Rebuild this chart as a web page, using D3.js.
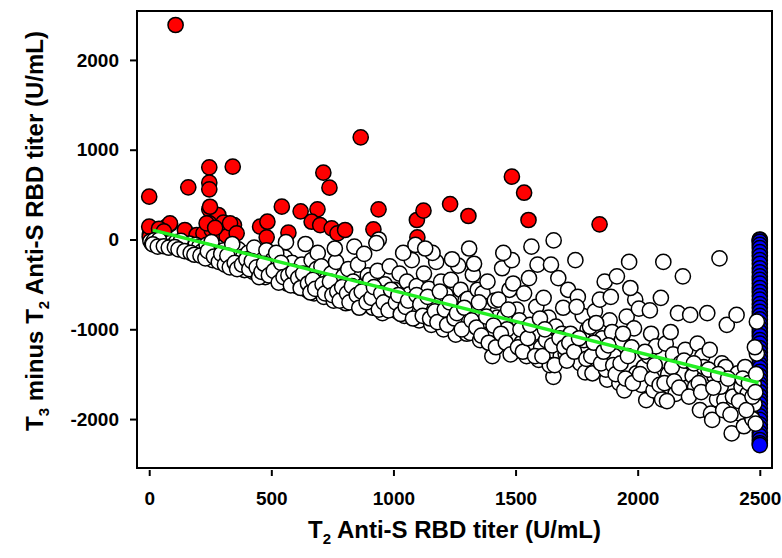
<!DOCTYPE html>
<html><head><meta charset="utf-8">
<script src="https://cdn.jsdelivr.net/npm/d3@7"></script>
<style>
body{margin:0;background:#fff}
svg{display:block}
text{font-family:"Liberation Sans",Arial,Helvetica,sans-serif;font-weight:bold;fill:#000}
</style>
</head><body>
<svg id="c" width="782" height="558"></svg>
<script>
const xTicks = [0, 500, 1000, 1500, 2000, 2500];
const yTicks = [-2000, -1000, 0, 1000, 2000];
const xTitleMain = "T", xTitleSub = "2", xTitleRest = " Anti-S RBD titer (U/mL)";
const yTitleParts = [["T",""],["3","sub"],[" minus T",""],["2","sub"],[" Anti-S RBD titer (U/mL)",""]];

const redPts = [
 [108,2389],[0,477],[160,581],[246,804],[342,811],[246,633],[246,559],[246,336],[283,273],[246,180],
 [304,187],[347,161],[351,68],[454,143],[484,198],[481,24],[543,366],[570,76],[620,314],[689,336],
 [665,198],[700,161],[713,744],[738,577],[747,124],[771,68],[802,106],[866,1138],[939,336],[918,113],
 [1096,217],[1123,321],[1098,24],[1232,395],[3,68],[10,106],[71,143],[85,172],[146,106],[194,50],
 [222,68],[256,106],[287,87],[317,31],[5,20],[2,30],[0,143],[85,180],[249,365],[235,180],[331,180],
 [358,69],[1307,262],[1485,700],[1535,521],[1553,217],[1844,169],[40,120],[60,90],[270,130]
];

const whitePts = [
 [5,-20],[12,-45],[20,-10],[30,-35],[45,-60],[55,-25],[70,-50],[85,-40],[95,-70],[40,-5],
 [110,-30],[125,-75],[140,-60],[150,-100],[165,-45],[180,-120],[195,-95],[160,-130],[130,-15],[190,-60],
 [205,-80],[215,-135],[225,-170],[235,-60],[245,-200],[250,-110],[260,-230],[270,-150],[280,-90],[290,-190],[255,-30],[298,-240],
 [305,-120],[315,-210],[325,-270],[335,-160],[345,-300],[355,-230],[365,-110],[375,-320],[385,-190],[395,-260],[340,-50],[390,-340],
 [405,-150],[415,-280],[425,-360],[435,-220],[445,-390],[455,-300],[465,-180],[475,-420],[485,-260],[495,-340],[430,-90],[480,-120],
 [505,-230],[515,-410],[525,-300],[535,-450],[545,-370],[555,-200],[565,-490],[575,-330],[585,-260],[595,-440],[560,-30],[520,-150],
 [605,-520],[615,-360],[625,-280],[635,-470],[645,-560],[655,-400],[665,-230],[675,-600],[685,-330],[695,-500],[640,-50],[690,-150],
 [705,-300],[715,-640],[725,-450],[735,-560],[745,-380],[755,-680],[765,-250],[775,-520],[785,-600],[795,-410],[760,-100],
 [805,-710],[815,-330],[825,-560],[835,-470],[845,-650],[855,-280],[865,-740],[875,-520],[885,-620],[895,-400],[840,-80],[880,-160],
 [905,-450],[915,-760],[925,-580],[935,-350],[945,-680],[955,-820],[965,-500],[975,-620],[985,-300],[995,-720],[940,0],[930,-40],
 [1005,-560],[1015,-800],[1025,-380],[1035,-680],[1045,-850],[1055,-470],[1065,-610],[1075,-230],[1085,-760],[1095,-520],[1040,-150],[1090,-60],
 [1105,-900],[1115,-640],[1125,-380],[1135,-780],[1145,-550],[1155,-950],[1165,-700],[1175,-250],[1185,-840],[1195,-470],[1160,-150],[1130,-100],
 [1205,-1000],[1215,-620],[1225,-860],[1235,-450],[1245,-760],[1255,-1060],[1265,-290],[1275,-560],[1285,-920],[1295,-680],[1240,-220],[1300,-1050],
 [1305,-660],[1315,-1040],[1325,-390],[1335,-820],[1345,-560],[1355,-1120],[1365,-600],[1375,-940],[1385,-470],[1395,-1050],[1330,-270],[1370,-740],[1310,-100],
 [1405,-1300],[1415,-680],[1425,-870],[1435,-1120],[1445,-320],[1455,-860],[1465,-1000],[1475,-560],[1485,-230],[1495,-1230],[1430,-670],[1450,-150],[1490,-490],
 [1505,-780],[1515,-900],[1525,-1150],[1535,-600],[1545,-1300],[1555,-430],[1565,-80],[1575,-1040],[1585,-750],[1595,-1340],[1520,-1000],[1590,-280],
 [1605,-1200],[1615,-650],[1625,-1120],[1635,-870],[1645,-280],[1655,-1530],[1665,-970],[1675,-430],[1685,-1300],[1695,-760],[1656,-10],[1640,-1400],[1690,-1050],
 [1705,-1270],[1715,-560],[1725,-1050],[1735,-1160],[1745,-230],[1755,-640],[1765,-1380],[1775,-850],[1785,-1480],[1795,-1000],[1750,-750],[1780,-1120],
 [1805,-970],[1815,-1490],[1825,-800],[1835,-1230],[1845,-670],[1855,-1100],[1865,-470],[1875,-1560],[1885,-900],[1895,-1030],[1830,-930],[1870,-1450],[1890,-640],
 [1905,-1300],[1915,-410],[1925,-1600],[1935,-1120],[1945,-1680],[1955,-860],[1965,-250],[1975,-1200],[1985,-990],[1995,-1490],[1940,-1050],[1990,-670],[1970,-540],
 [2005,-770],[2015,-1620],[2025,-1420],[2035,-1790],[2045,-1300],[2055,-1050],[2065,-1680],[2075,-1190],[2085,-1500],[2095,-650],[2050,-790],[2100,-1780],
 [2105,-250],[2115,-1160],[2125,-1500],[2135,-1030],[2145,-1280],[2155,-1720],[2165,-820],[2175,-1380],[2185,-410],[2195,-1230],[2120,-1800],[2180,-1500],
 [2205,-1650],[2215,-840],[2225,-1520],[2235,-1640],[2245,-1160],[2255,-1900],[2265,-1300],[2275,-1530],[2285,-820],[2295,-1230],[2300,-1940],[2270,-1420],
 [2305,-2010],[2315,-1530],[2325,-1780],[2335,-210],[2345,-1380],[2355,-1790],[2365,-950],[2375,-1640],[2385,-2160],[2395,-1830],[2360,-1420],[2390,-1750],[2340,-1640],
 [2405,-840],[2410,-1490],[2420,-1940],[2425,-1640],[2435,-2080],[2440,-1420],[2450,-1720],[2460,-1860],[2465,-1970],[2475,-1600],[2478,-1830],[2488,-1270],[2488,-915],[2480,-1200],[2470,-2000],
 [15,-55],[35,-80],[60,-75],[80,-90],
 [105,-85],[120,-110],[145,-130],[170,-150],[185,-170],
 [210,-180],[230,-210],[240,-130],[265,-190],[285,-250],[295,-160],
 [310,-280],[320,-180],[330,-310],[350,-260],[360,-330],[380,-280],[398,-220],
 [410,-330],[420,-240],[440,-310],[450,-420],[460,-360],[470,-270],[490,-400],
 [510,-350],[530,-480],[540,-260],[550,-420],[570,-400],[580,-510],[590,-360],
 [610,-430],[620,-540],[630,-380],[650,-490],[660,-590],[670,-450],[680,-550],
 [710,-500],[720,-600],[740,-470],[750,-620],[770,-580],[780,-680],[790,-530],
 [810,-600],[820,-700],[830,-520],[850,-620],[860,-760],[870,-580],[890,-700],
 [910,-650],[920,-530],[940,-780],[950,-600],[960,-700],[980,-790],[990,-560],
 [1010,-700],[1020,-620],[1030,-830],[1050,-750],[1060,-680],[1080,-880],[1095,-620],
 [1110,-720],[1120,-850],[1140,-640],[1150,-880],[1170,-800],[1180,-920],[1190,-580],
 [1210,-780],[1220,-950],[1230,-700],[1250,-880],[1260,-820],[1280,-1000],[1290,-760],
 [1320,-900],[1340,-980],[1350,-700],[1360,-1070],[1380,-860],[1390,-1150],
 [1410,-960],[1420,-1200],[1440,-1050],[1460,-1150],[1470,-780],[1480,-1280],
 [1510,-1200],[1530,-1250],[1550,-1100],[1560,-950],[1580,-1300],[1600,-880],
 [1610,-1300],[1620,-1000],[1650,-1180],[1660,-1400],[1680,-1100],[1700,-1200],
 [1710,-1350],[1720,-1150],[1740,-1250],[1760,-1100],[1790,-1330],
 [1810,-1300],[1820,-1150],[1850,-1380],[1860,-1250],[1880,-1180],[1900,-1400],
 [1910,-1500],[1930,-1380],[1950,-1550],[1960,-1300],[1980,-1600],
 [2010,-1500],[2030,-1250],[2060,-1550],[2070,-1400],[2090,-1620],
 [2110,-1600],[2140,-1420],[2150,-1580],[2170,-1650],[2190,-1350],
 [2210,-1750],[2230,-1380],[2250,-1600],[2260,-1700],[2290,-1450],
 [2310,-1650],[2330,-1500],[2350,-1900],[2370,-1550],[2380,-1950],
 [2415,-1800],[2430,-1550],[2445,-1900],[2455,-1600],[2470,-1750],[2482,-1700],[2485,-1500],[2483,-2050]
];

const blueX = 2500;
const blueY = [0,-8,-25,-60,-95,-140,-185,-230,-270,-320,-365,-410,-450,-490,-540,-585,-630,-670,-720,-760,
 -805,-850,-890,-940,-985,-1030,-1075,-1120,-1160,-1210,-1255,-1300,-1340,-1390,-1430,-1475,-1520,-1565,-1610,-1650,
 -1700,-1745,-1790,-1830,-1880,-1925,-1970,-2010,-2060,-2100,-2150,-2190,-2235,-2270,-2290];

const fitX = [15, 2495];
const fitY = [105, -1595];

const svg = d3.select("#c");
const x = d3.scaleLinear().domain([-50, 2550]).range([137, 772]);
const y = d3.scaleLinear().domain([-2545, 2545]).range([468, 11]);
const R = 7.6;

svg.append("rect")
  .attr("x", x.range()[0]).attr("y", y.range()[1])
  .attr("width", x.range()[1]-x.range()[0]).attr("height", y.range()[0]-y.range()[1])
  .attr("fill", "none").attr("stroke", "#000").attr("stroke-width", 2);

const gp = svg.append("g");
function dots(data, fill){
  gp.append("g").selectAll("circle").data(data).join("circle")
    .attr("cx", d => x(d[0])).attr("cy", d => y(d[1])).attr("r", R)
    .attr("fill", fill).attr("stroke", "#000").attr("stroke-width", 1.5);
}
dots(redPts, "#ff0000");
dots(blueY.map(v => [blueX, v]), "#0000ff");
dots(whitePts, "#ffffff");

svg.append("path")
  .datum(fitX.map((v,i) => [v, fitY[i]]))
  .attr("d", d3.line().x(d => x(d[0])).y(d => y(d[1])))
  .attr("stroke", "#22ee22").attr("stroke-width", 3.5).attr("fill", "none");

const xa = svg.append("g").attr("transform", `translate(0,${y.range()[0]+2})`)
  .call(d3.axisBottom(x).tickValues(xTicks).tickSize(6).tickPadding(16).tickFormat(d3.format("d")));
const ya = svg.append("g").attr("transform", `translate(${x.range()[0]},0)`)
  .call(d3.axisLeft(y).tickValues(yTicks).tickSize(7).tickPadding(11).tickFormat(d => d < 0 ? "-" + Math.abs(d) : d));
[xa, ya].forEach(g => {
  g.select(".domain").remove();
  g.selectAll(".tick line").attr("stroke", "#000").attr("stroke-width", 2);
  g.selectAll(".tick text").attr("font-size", 19).attr("font-family", null);
});

const xt = svg.append("text").attr("x", (x.range()[0]+x.range()[1])/2).attr("y", 538)
  .attr("text-anchor", "middle").attr("font-size", 24);
xt.append("tspan").text(xTitleMain);
xt.append("tspan").attr("font-size", 15).attr("dy", 6).text(xTitleSub);
xt.append("tspan").attr("dy", -6).text(xTitleRest);

const yt = svg.append("text").attr("transform", "translate(43,231) rotate(-90)")
  .attr("text-anchor", "middle").attr("font-size", 24);
let shift = 0;
yTitleParts.forEach(([t, k]) => {
  const s = yt.append("tspan").text(t);
  if (k === "sub") { s.attr("font-size", 15).attr("dy", 6); shift = 6; }
  else if (shift) { s.attr("dy", -shift); shift = 0; }
});
</script>
</body></html>
